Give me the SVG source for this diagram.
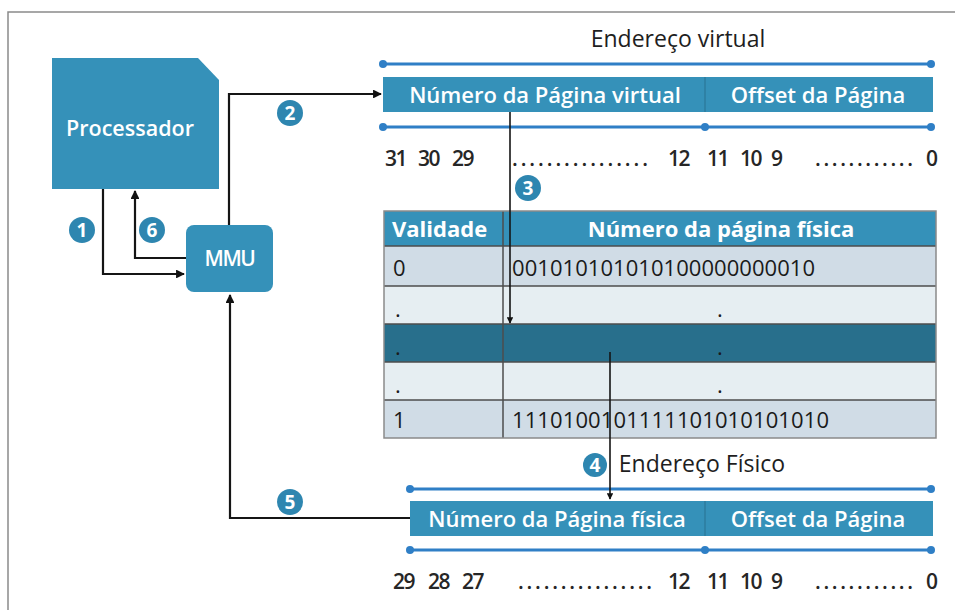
<svg xmlns="http://www.w3.org/2000/svg" width="955" height="610" viewBox="0 0 955 610">
  <defs>
    <marker id="arrow" viewBox="0 0 10 10" refX="9" refY="5" markerWidth="4" markerHeight="4" orient="auto" markerUnits="strokeWidth">
      <path d="M0,0 L10,5 L0,10 z" fill="#111"/>
    </marker>
    <style>
      .frame { stroke: #8a8a8a; stroke-width: 1.5; fill: none; }
      .box { fill: #3591b9; }
      .boxtxt { font-family: "Open Sans", "Liberation Sans", sans-serif; font-size: 22px; font-weight: 600; fill: #ffffff; text-anchor: middle; }
      .title { font-family: "Open Sans", "Liberation Sans", sans-serif; font-size: 23px; fill: #1e1e1e; text-anchor: middle; }
      .bits { font-family: "Open Sans", "Liberation Sans", sans-serif; font-size: 21px; font-weight: 600; fill: #262626; }
      .num { letter-spacing: -1.5px; }
      .cell { font-family: "Open Sans", "Liberation Sans", sans-serif; font-size: 22px; fill: #1a1a1a; }
      .head { font-family: "Open Sans", "Liberation Sans", sans-serif; font-size: 22px; font-weight: 700; fill: #ffffff; }
      .conn { fill: none; stroke: #151515; stroke-width: 2.2; }
      .thin { fill: none; stroke: #151515; stroke-width: 1.6; }
      .rule { stroke: #2f7fc6; stroke-width: 3; }
      .dot { fill: #2f7fc6; }
      .badge circle { fill: #2e86b0; }
      .badge text { font-family: "Open Sans", "Liberation Sans", sans-serif; font-size: 19px; font-weight: 700; fill: #ffffff; text-anchor: middle; }
      .grid { stroke: #4d4d4d; stroke-width: 1.5; }
    </style>
  </defs>

  <rect width="955" height="610" fill="#ffffff"/>
  <!-- outer frame -->
  <path class="frame" d="M8,610 V12 H955"/>

  <!-- processor -->
  <g id="processador">
    <path class="box" d="M52,58 H198 L219,80 V189 H52 Z"/>
    <text class="boxtxt" x="130" y="136" style="font-size:21.5px">Processador</text>
  </g>

  <!-- MMU -->
  <g id="mmu">
    <rect class="box" x="186" y="225" width="87" height="67" rx="8"/>
    <text class="boxtxt" x="229.5" y="266" style="font-size:21px;letter-spacing:-1.5px">MMU</text>
  </g>

  <!-- virtual address -->
  <g id="endereco-virtual">
    <text class="title" x="678" y="47">Endereço virtual</text>
    <line class="rule" x1="383" y1="64" x2="931" y2="64"/>
    <circle class="dot" cx="383" cy="64" r="4"/>
    <circle class="dot" cx="931" cy="64" r="4"/>
    <rect class="box" x="383" y="77" width="550" height="35"/>
    <line x1="705" y1="77" x2="705" y2="112" stroke="#2a7798" stroke-width="1.2"/>
    <text class="boxtxt" x="545" y="103">Número da Página virtual</text>
    <text class="boxtxt" x="818" y="103">Offset da Página</text>
    <line class="rule" x1="383" y1="127" x2="931" y2="127"/>
    <circle class="dot" cx="383" cy="127" r="4"/>
    <circle class="dot" cx="705" cy="127" r="4"/>
    <circle class="dot" cx="931" cy="127" r="4"/>
    <text class="bits num" y="166"><tspan x="385">31</tspan><tspan x="418">30</tspan><tspan x="452">29</tspan></text>
    <text class="bits" x="512" y="166" textLength="136" lengthAdjust="spacing">................</text>
    <text class="bits num" y="166"><tspan x="668">12</tspan><tspan x="707">11</tspan><tspan x="740">10</tspan><tspan x="771">9</tspan></text>
    <text class="bits" x="815" y="166" textLength="98" lengthAdjust="spacing">............</text>
    <text class="bits" x="926" y="166">0</text>
  </g>

  <!-- page table -->
  <g id="tabela-paginas">
    <rect x="384" y="211" width="552" height="35" fill="#3591b9"/>
    <rect x="384" y="246" width="552" height="40" fill="#d0dce6"/>
    <rect x="384" y="286" width="552" height="38" fill="#e6eef2"/>
    <rect x="384" y="324" width="552" height="38" fill="#286f8c"/>
    <rect x="384" y="362" width="552" height="38" fill="#e6eef2"/>
    <rect x="384" y="400" width="552" height="38" fill="#d0dce6"/>
    <line class="grid" x1="384" y1="246" x2="936" y2="246"/>
    <line class="grid" x1="384" y1="286" x2="936" y2="286"/>
    <line class="grid" x1="384" y1="324" x2="936" y2="324"/>
    <line class="grid" x1="384" y1="362" x2="936" y2="362"/>
    <line class="grid" x1="384" y1="400" x2="936" y2="400"/>
    <line class="grid" x1="503" y1="211" x2="503" y2="438"/>
    <rect x="384" y="211" width="552" height="227" fill="none" stroke="#8a8a8a" stroke-width="1.5"/>
    <text class="head" x="392" y="237">Validade</text>
    <text class="head" x="721" y="237" text-anchor="middle">Número da página física</text>
    <text class="cell" x="393" y="276">0</text>
    <text class="cell" x="512" y="276" textLength="303" lengthAdjust="spacing">001010101010100000000010</text>
    <text class="cell" x="395" y="317">.</text>
    <text class="cell" x="717" y="317">.</text>
    <text class="cell" x="395" y="355">.</text>
    <text class="cell" x="717" y="355">.</text>
    <text class="cell" x="395" y="393">.</text>
    <text class="cell" x="717" y="393">.</text>
    <text class="cell" x="393" y="428">1</text>
    <text class="cell" x="512" y="428" textLength="317" lengthAdjust="spacing">1110100101111101010101010</text>
  </g>

  <!-- physical address -->
  <g id="endereco-fisico">
    <text class="title" x="702" y="472">Endereço Físico</text>
    <line class="rule" x1="410" y1="489" x2="931" y2="489"/>
    <circle class="dot" cx="410" cy="489" r="4"/>
    <circle class="dot" cx="931" cy="489" r="4"/>
    <rect class="box" x="410" y="501" width="523" height="35"/>
    <line x1="705" y1="501" x2="705" y2="536" stroke="#2a7798" stroke-width="1.2"/>
    <text class="boxtxt" x="557" y="527">Número da Página física</text>
    <text class="boxtxt" x="818" y="527">Offset da Página</text>
    <line class="rule" x1="410" y1="550" x2="931" y2="550"/>
    <circle class="dot" cx="410" cy="550" r="4"/>
    <circle class="dot" cx="705" cy="550" r="4"/>
    <circle class="dot" cx="931" cy="550" r="4"/>
    <text class="bits num" y="589"><tspan x="393">29</tspan><tspan x="428">28</tspan><tspan x="462">27</tspan></text>
    <text class="bits" x="518" y="589" textLength="134" lengthAdjust="spacing">................</text>
    <text class="bits num" y="589"><tspan x="668">12</tspan><tspan x="707">11</tspan><tspan x="740">10</tspan><tspan x="771">9</tspan></text>
    <text class="bits" x="815" y="589" textLength="98" lengthAdjust="spacing">............</text>
    <text class="bits" x="926" y="589">0</text>
  </g>

  <!-- connectors -->
  <g id="conectores">
    <path class="conn" d="M103,189 V274 H184" marker-end="url(#arrow)"/>
    <path class="conn" d="M186,258 H135 V191" marker-end="url(#arrow)"/>
    <path class="conn" d="M229,225 V94 H381" marker-end="url(#arrow)"/>
    <path class="thin" d="M510,112 V323" marker-end="url(#arrow)"/>
    <path class="thin" d="M610,352 V499" marker-end="url(#arrow)"/>
    <path class="conn" d="M410,518 H230 V295" marker-end="url(#arrow)"/>
  </g>

  <!-- step badges -->
  <g id="passo-1" class="badge"><circle cx="82" cy="230" r="13"/><text x="82" y="237">1</text></g>
  <g id="passo-2" class="badge"><circle cx="290" cy="113" r="13"/><text x="290" y="120">2</text></g>
  <g id="passo-3" class="badge"><circle cx="528" cy="188" r="13"/><text x="528" y="195">3</text></g>
  <g id="passo-4" class="badge"><circle cx="595" cy="465" r="12"/><text x="595" y="472">4</text></g>
  <g id="passo-5" class="badge"><circle cx="290" cy="502" r="13"/><text x="290" y="509">5</text></g>
  <g id="passo-6" class="badge"><circle cx="152" cy="230" r="13"/><text x="152" y="237">6</text></g>
</svg>
